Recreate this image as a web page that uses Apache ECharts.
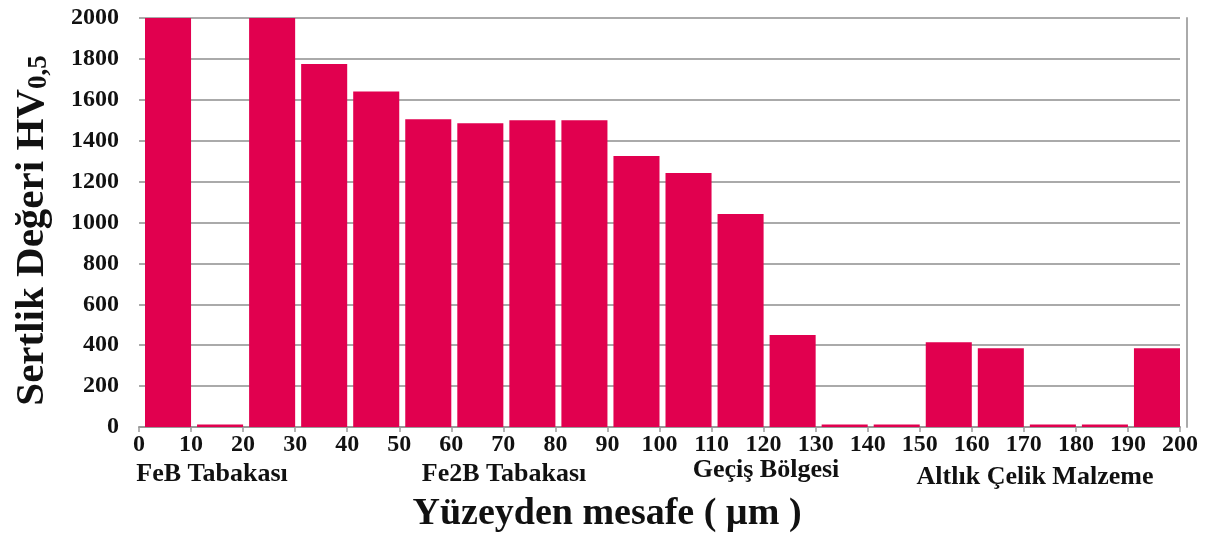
<!DOCTYPE html>
<html>
<head>
<meta charset="utf-8">
<script src="https://cdn.jsdelivr.net/npm/echarts@6/dist/echarts.min.js"></script>
<style>html,body{margin:0;padding:0;background:#fff}#c{width:1215px;height:537px}</style>
</head>
<body>
<div id="c"></div>
<script>
// Bin start positions (µm) and hardness values (HV0,5)
const binStart = [0, 10, 20, 30, 40, 50, 60, 70, 80, 90, 100, 110, 120, 130, 140, 150, 160, 170, 180, 190];
const binWidth = 10;
const hardness = [2000, 12, 2000, 1775, 1640, 1505, 1485, 1500, 1500, 1325, 1242, 1042, 450, 12, 12, 415, 385, 12, 12, 385];
const yTicks = [0, 200, 400, 600, 800, 1000, 1200, 1400, 1600, 1800, 2000];
const regionLabels = ['FeB Tabakası', 'Fe2B Tabakası', 'Geçiş Bölgesi', 'Altlık Çelik Malzeme'];

const SERIF = '"Liberation Serif", "Times New Roman", serif';
const chart = echarts.init(document.getElementById('c'));

const data = binStart.map((s, i) => [s, s + binWidth, hardness[i]]);

const regionPos = [[212, 474], [504, 474], [766, 470], [1035, 477]];

chart.setOption({
  animation: false,
  backgroundColor: '#fff',
  grid: { left: 139, right: 35, top: 18, bottom: 110, outerBoundsMode: 'none', containLabel: false },
  xAxis: {
    type: 'value', min: 0, max: 200, interval: 10,
    axisLine: { show: true, lineStyle: { color: '#9a9a9a', width: 2 } },
    axisTick: { show: true, length: 5, lineStyle: { color: '#9a9a9a', width: 1.5 } },
    splitLine: { show: false },
    axisLabel: { color: '#111', fontFamily: SERIF, fontWeight: 'bold', fontSize: 24, margin: 6 },
    name: 'Yüzeyden mesafe ( µm )',
    nameLocation: 'middle', nameGap: 68,
    nameTextStyle: { color: '#111', fontFamily: SERIF, fontWeight: 'bold', fontSize: 38, padding: [0, 105, 0, 0] }
  },
  yAxis: [{
    type: 'value', min: 0, max: 2000, interval: 200,
    axisLine: { show: false },
    axisTick: { show: false },
    splitLine: { show: true, lineStyle: { color: '#aaaaaa', width: 2 } },
    axisLabel: { color: '#111', fontFamily: SERIF, fontWeight: 'bold', fontSize: 24, margin: 20,
      formatter: v => yTicks.includes(v) ? String(v) : '' },
    name: '{a|Sertlik Değeri HV}{s|0,5}',
    nameLocation: 'middle', nameGap: 86,
    nameTextStyle: {
      padding: [0, 16, 0, 0],
      rich: {
        a: { fontFamily: SERIF, fontWeight: 'bold', fontSize: 41, color: '#111', lineHeight: 46, verticalAlign: 'bottom' },
        s: { fontFamily: SERIF, fontWeight: 'bold', fontSize: 27, color: '#111', lineHeight: 46, padding: [24, 0, 0, 0], verticalAlign: 'bottom' }
      }
    }
  }, {
    type: 'value', min: 0, max: 2000, position: 'right', offset: 7,
    axisLine: { show: true, lineStyle: { color: '#aaaaaa', width: 2 } },
    axisTick: { show: false }, axisLabel: { show: false }, splitLine: { show: false }
  }],
  graphic: regionLabels.map((t, i) => ({
    type: 'text', x: regionPos[i][0], y: regionPos[i][1],
    style: { text: t, fill: '#111', font: 'bold 26px ' + SERIF, textAlign: 'center', textVerticalAlign: 'middle' }
  })),
  series: [{
    type: 'custom',
    data: data,
    encode: { x: [0, 1], y: 2 },
    renderItem: function (params, api) {
      const p0 = api.coord([api.value(0), 0]);
      const p1 = api.coord([api.value(1), api.value(2)]);
      const gap = 6;
      return {
        type: 'rect',
        shape: { x: p0[0] + gap, y: p1[1], width: p1[0] - p0[0] - gap, height: p0[1] - p1[1] },
        style: { fill: '#E1004F' }
      };
    }
  }]
});
</script>
</body>
</html>
